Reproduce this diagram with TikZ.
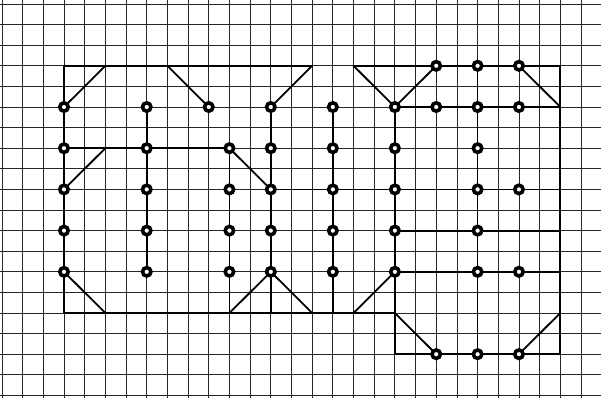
\documentclass[tikz,border=0pt]{standalone}
\begin{document}
\begin{tikzpicture}[x=20.68pt,y=-20.6pt,
  gridline/.style={line width=0.8pt,black!85},
  heavy/.style={line width=1.8pt,black,line cap=round,line join=round},
  dot/.style={circle,draw=black,fill=white,line width=3.6pt,minimum size=8.4pt,inner sep=0pt}]
\useasboundingbox (-0.0943,-0.194) rectangle (28.968,19.126);
\fill[white] (-0.0943,-0.194) rectangle (28.968,19.126);
% graph-paper grid
\foreach \i in {0,...,29} \draw[gridline] (\i,-0.194) -- (\i,19.126);
\foreach \j in {0,...,19} \draw[gridline] (-0.0943,\j) -- (28.968,\j);
% outline
\draw[heavy] (15,3) -- (3,3) -- (3,15) -- (19,15) -- (19,17) -- (27,17) -- (27,3) -- (17,3);
% corner diagonals
\draw[heavy] (3,5) -- (5,3);
\draw[heavy] (3,9) -- (5,7);
\draw[heavy] (3,13) -- (5,15);
\draw[heavy] (8,3) -- (10,5);
\draw[heavy] (11,7) -- (13,9);
\draw[heavy] (13,5) -- (15,3);
\draw[heavy] (11,15) -- (13,13) -- (15,15);
\draw[heavy] (17,15) -- (19,13);
\draw[heavy] (17,3) -- (19,5) -- (21,3);
\draw[heavy] (25,3) -- (27,5);
\draw[heavy] (19,15) -- (21,17);
\draw[heavy] (25,17) -- (27,15);
% vertical lines
\draw[heavy] (7,5) -- (7,13);
\draw[heavy] (11,7) -- (11,15);
\draw[heavy] (13,5) -- (13,15);
\draw[heavy] (16,5) -- (16,15);
\draw[heavy] (19,5) -- (19,15);
\draw[heavy] (23,3) -- (23,17);
% horizontal lines
\draw[heavy] (3,7) -- (11,7);
\draw[heavy] (13,9) -- (27,9);
\draw[heavy] (19,5) -- (27,5);
\draw[heavy] (19,11) -- (27,11);
\draw[heavy] (19,13) -- (27,13);
% dots
\foreach \i in {3,7,13,16,19}
  \foreach \j in {5,7,9,11,13}
    \node[dot] (c\i-\j) at (\i,\j) {};
\node[dot] (c10-5) at (10,5) {};
\foreach \j in {7,9,11,13} \node[dot] (c11-\j) at (11,\j) {};
\foreach \j in {3,5,17} \node[dot] (c21-\j) at (21,\j) {};
\foreach \j in {3,5,7,9,11,13,17} \node[dot] (c23-\j) at (23,\j) {};
\foreach \j in {3,5,9,13,17} \node[dot] (c25-\j) at (25,\j) {};
\end{tikzpicture}
\end{document}
